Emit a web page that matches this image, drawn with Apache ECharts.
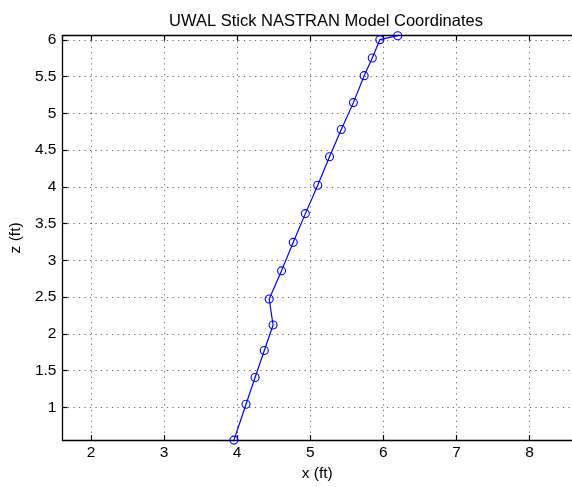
<!DOCTYPE html>
<html>
<head>
<meta charset="utf-8">
<script src="https://cdn.jsdelivr.net/npm/echarts@6/dist/echarts.min.js"></script>
<style>html,body{margin:0;padding:0;background:#fff;}#chart{width:572px;height:487px;}</style>
</head>
<body>
<div id="chart"></div>
<script>
var titleText = 'UWAL Stick NASTRAN Model Coordinates';
var xName = 'x (ft)';
var zName = 'z (ft)';
var xValues = [3.956, 4.121, 4.245, 4.371, 4.491, 4.438, 4.607, 4.767, 4.933, 5.102, 5.263, 5.424, 5.590, 5.737, 5.848, 5.951, 6.196];
var zValues = [0.553, 1.041, 1.406, 1.772, 2.120, 2.474, 2.857, 3.245, 3.636, 4.022, 4.410, 4.781, 5.147, 5.514, 5.755, 6.004, 6.058];
var xRange = [1.61, 8.58];
var zRange = [0.553, 6.058];

var points = xValues.map(function (x, i) { return [x, zValues[i]]; });
var font = 'Liberation Sans, Arial, Helvetica, sans-serif';
var tickFont = 15.5;
var gridLine = { show: true, lineStyle: { color: '#000', width: 1, type: [1.2, 4.3], opacity: 0.6 } };

var chart = echarts.init(document.getElementById('chart'), null, { renderer: 'canvas' });
chart.setOption({
  animation: false,
  backgroundColor: '#fff',
  title: {
    text: titleText, left: 321, top: 8, textAlign: 'center',
    textStyle: { fontFamily: font, fontSize: 16.5, fontWeight: 'normal', color: '#000' }
  },
  grid: { left: 61, right: -9, top: 35.7, bottom: 40.3, containLabel: false },
  xAxis: [{
    type: 'value', min: xRange[0], max: xRange[1], splitNumber: 7, position: 'bottom',
    name: xName, nameLocation: 'middle', nameGap: 24,
    nameTextStyle: { fontFamily: font, fontSize: tickFont, color: '#000' },
    axisLine: { show: true, onZero: false, lineStyle: { color: '#000', width: 1.3 } },
    axisTick: { show: true, inside: true, length: 5, lineStyle: { color: '#000', width: 1.2 } },
    axisLabel: { fontFamily: font, fontSize: tickFont, color: '#000', margin: 5, showMinLabel: false, showMaxLabel: false },
    splitLine: gridLine
  }, {
    type: 'value', min: xRange[0], max: xRange[1], splitNumber: 7, position: 'top',
    axisLine: { show: true, onZero: false, lineStyle: { color: '#000', width: 1.3 } },
    axisTick: { show: true, inside: true, length: 5, lineStyle: { color: '#000', width: 1.2 } },
    axisLabel: { show: false }, splitLine: { show: false }
  }],
  yAxis: [{
    type: 'value', min: zRange[0], max: zRange[1], splitNumber: 11, position: 'left',
    name: zName, nameLocation: 'middle', nameGap: 34, nameRotate: 90,
    nameTextStyle: { fontFamily: font, fontSize: tickFont, color: '#000' },
    axisLine: { show: true, onZero: false, lineStyle: { color: '#000', width: 1.3 } },
    axisTick: { show: true, inside: true, length: 5, lineStyle: { color: '#000', width: 1.2 } },
    axisLabel: { fontFamily: font, fontSize: tickFont, color: '#000', margin: 6, showMinLabel: false, showMaxLabel: false },
    splitLine: gridLine
  }],
  series: [{
    type: 'line', data: points, xAxisIndex: 0, yAxisIndex: 0,
    symbol: 'circle', symbolSize: 8,
    lineStyle: { color: '#0000ff', width: 1.2 },
    itemStyle: { color: 'rgba(0,0,0,0)', borderColor: '#0000ff', borderWidth: 1.1 },
    clip: false
  }]
});
</script>
</body>
</html>
